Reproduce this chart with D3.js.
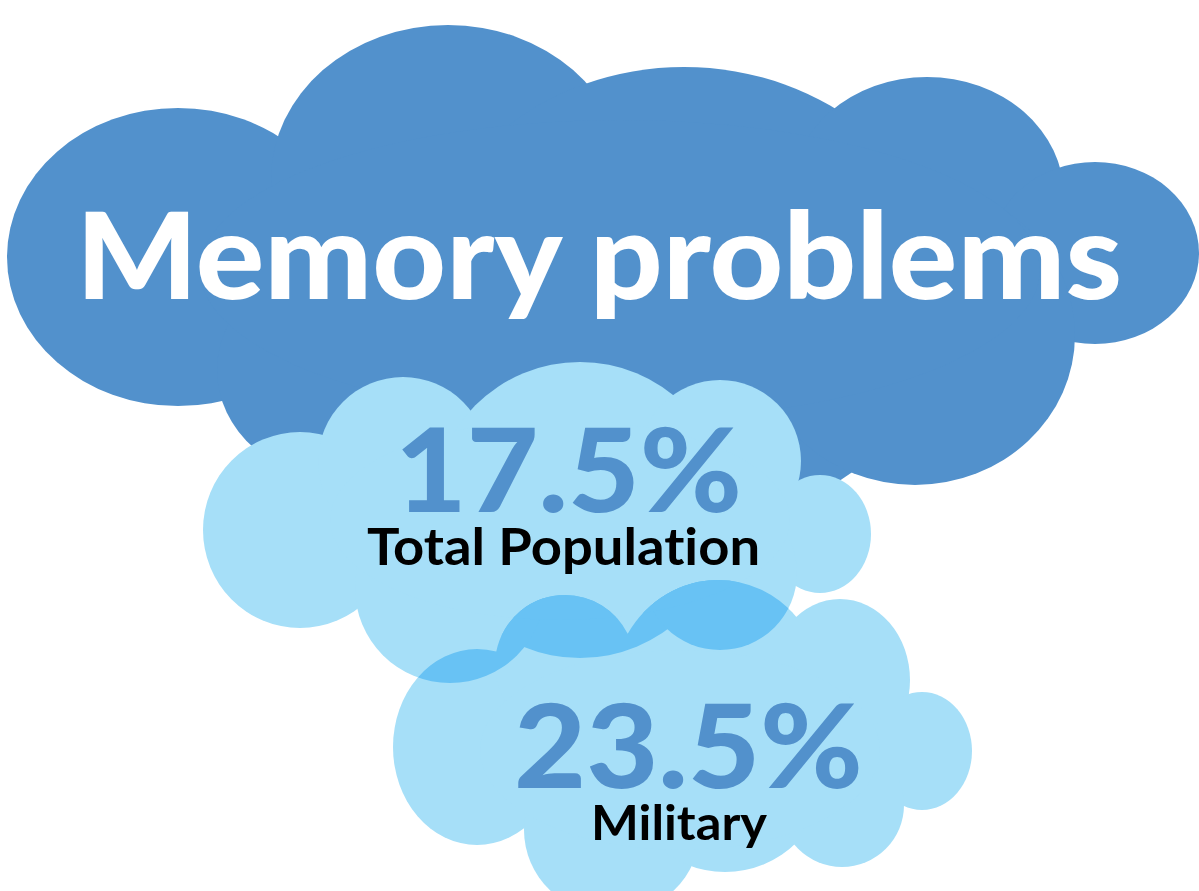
<!DOCTYPE html>
<html>
<head>
<meta charset="utf-8">
<script src="https://cdn.jsdelivr.net/npm/d3@7"></script>
<style>
  html, body { margin: 0; padding: 0; background: #fff; }
  svg { display: block; }
  text { font-variant-ligatures: none; }
</style>
</head>
<body>
<script>
// chart data
const title = 'Memory problems';
const groups = ['Total Population', 'Military'];
const shares = [17.5, 23.5];

// cloud outlines: ellipse lobes [cx, cy, rx, ry]
const titleLobes = [[178,257,171,149],[448,179,177,154],[684,296,263,229],[927,196,137,119],
                    [1095,253,104,91],[915,335,160,150],[345,370,128,111],[620,270,420,150]];
const popLobes   = [[300,530,97,98],[403,462,85,85],[580,510,148,148],[720,461,81,81],
                    [820,534,51,59],[450,588,95,95],[720,573,77,77],[560,520,230,100]];
const milLobes   = [[477,747,84,98],[565,665,70,70],[718,690,105,110],[840,680,70,81],
                    [922,751,50,59],[612,830,88,85],[725,770,102,102],[842,805,62,62],[680,750,200,100]];

const width = 1199, height = 891;
const darkBlue = '#5291cc', lightBlue = '#a6dff8', overlapBlue = '#68c2f4';
const fontFam = 'Lato, "Open Sans", "DejaVu Sans", sans-serif';

let svg = d3.select('body').append('svg')
  .attr('width', width)
  .attr('height', height);

let fmt = d => d3.format('.1f')(d) + '%';

function lobes(parent, data) {
  return parent.selectAll('ellipse')
    .data(data)
    .enter().append('ellipse')
    .attr('cx', d => d[0])
    .attr('cy', d => d[1])
    .attr('rx', d => d[2])
    .attr('ry', d => d[3]);
}

function cloud(parent, data, fill) {
  let g = parent.append('g').attr('fill', fill);
  lobes(g, data);
  return g;
}

// fit a text: left/right edges, baseline, cap height
function fitText(sel, x0, x1, base, cap) {
  let size = cap / 0.7165;
  sel.attr('font-size', size)
    .attr('x', 0).attr('y', 0);
  let w = sel.node().getComputedTextLength();
  let sx = (x1 - x0) / w;
  sel.attr('transform', 'translate(' + x0 + ',' + base + ') scale(' + sx + ',1)');
}

// military outline as a clip, for the darker overlap
let clip = svg.append('defs').append('clipPath').attr('id', 'milClip');
lobes(clip, milLobes);

cloud(svg, titleLobes, darkBlue);
cloud(svg, popLobes, lightBlue);
cloud(svg, milLobes, lightBlue);
cloud(svg, popLobes, overlapBlue).attr('clip-path', 'url(#milClip)');

let t = svg.append('text')
  .attr('fill', '#fff')
  .attr('font-family', fontFam)
  .attr('font-weight', 900)
  .text(title);
fitText(t, 76, 1122, 299, 86);

// value boxes
const boxes = [
  {num: [395, 742, 512, 84], lab: [367, 760, 565, 37]},
  {num: [514, 863, 788, 84], lab: [591, 767, 840, 34]}
];

groups.forEach((g, i) => {
  let n = svg.append('text')
    .attr('fill', darkBlue)
    .attr('font-family', fontFam)
    .attr('font-weight', 900)
    .text(fmt(shares[i]));
  fitText(n, ...boxes[i].num);

  let l = svg.append('text')
    .attr('fill', '#000')
    .attr('font-family', fontFam)
    .attr('font-weight', 700)
    .text(g);
  fitText(l, ...boxes[i].lab);
});
</script>
</body>
</html>
